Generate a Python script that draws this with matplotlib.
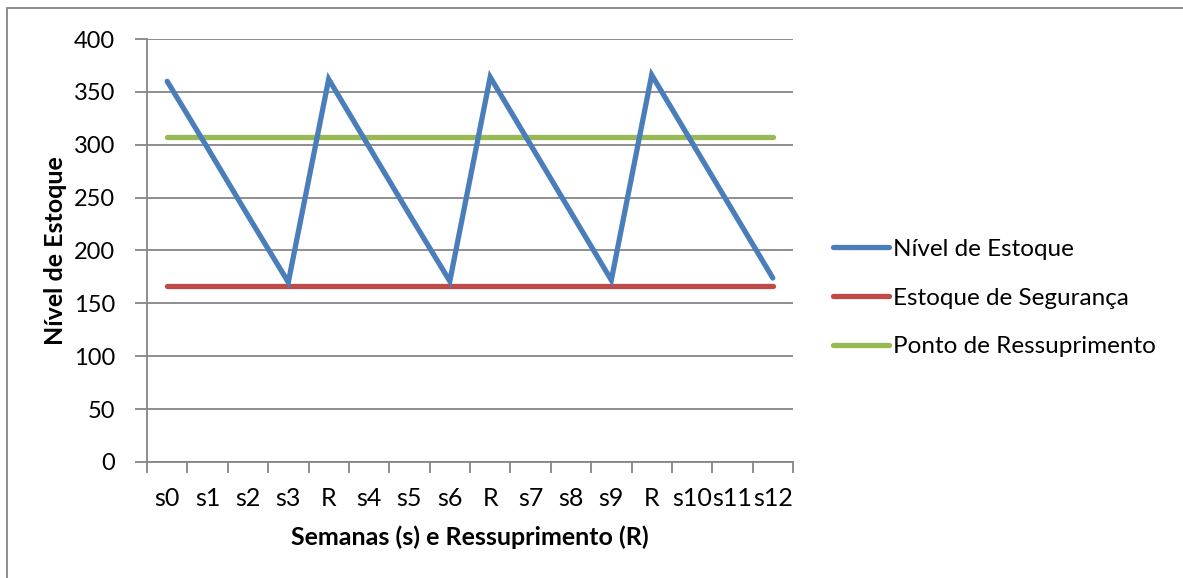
import matplotlib.pyplot as plt
import numpy as np
from matplotlib.patches import Rectangle

# categorias do eixo x (semanas e ressuprimentos)
categorias = ["s0", "s1", "s2", "s3", "R", "s4", "s5", "s6",
              "R", "s7", "s8", "s9", "R", "s10", "s11", "s12"]

nivel_estoque = [360, 297, 233, 170, 362, 298, 234, 171,
                 364, 300, 236, 172, 366, 302, 238, 174]
estoque_seguranca = [166] * len(categorias)
ponto_ressuprimento = [307] * len(categorias)

AZUL = "#4a7ebb"
VERMELHO = "#be4b48"
VERDE = "#98b954"
GRADE = "#868686"

plt.rcParams["font.family"] = ["Lato", "DejaVu Sans"]

fig = plt.figure(figsize=(11.83, 5.78), dpi=100)
ax = fig.add_axes([147 / 1183, 1 - 462 / 578, (793 - 147) / 1183, (462 - 39) / 578])

x = np.arange(len(categorias))
ax.plot(x, nivel_estoque, color=AZUL, lw=3.8, solid_capstyle="round",
        solid_joinstyle="miter", label="Nível de Estoque", zorder=3)
ax.plot(x, estoque_seguranca, color=VERMELHO, lw=3.8, solid_capstyle="round",
        label="Estoque de Segurança", zorder=2)
ax.plot(x, ponto_ressuprimento, color=VERDE, lw=3.8, solid_capstyle="round",
        label="Ponto de Ressuprimento", zorder=2)

ax.set_xlim(-0.5, len(categorias) - 0.5)
ax.set_ylim(0, 400)
ax.set_yticks(range(0, 401, 50))
ax.yaxis.grid(True, color=GRADE, lw=1.3)
ax.set_axisbelow(True)

# ticks nos limites das categorias, rótulos no centro
ax.set_xticks(np.arange(-0.5, len(categorias), 1))
ax.set_xticklabels([])
ax.set_xticks(x, minor=True)
ax.set_xticklabels(categorias, minor=True)
ax.tick_params(axis="x", which="major", length=8, width=1.3, color=GRADE)
ax.tick_params(axis="x", which="minor", length=0, pad=18, labelsize=18)
ax.tick_params(axis="y", length=9, width=1.3, color=GRADE, pad=14, labelsize=17)

for s in ["top", "right"]:
    ax.spines[s].set_visible(False)
for s in ["left", "bottom"]:
    ax.spines[s].set_color(GRADE)
    ax.spines[s].set_linewidth(1.3)

ax.set_ylabel("Nível de Estoque", fontsize=18, fontweight="bold", labelpad=5)
ax.set_xlabel("Semanas (s) e Ressuprimento (R)", fontsize=18, fontweight="bold", labelpad=11)

leg = ax.legend(loc="center left", bbox_to_anchor=(1.028, (462 - 298) / 423), frameon=False,
                fontsize=17.5, handlelength=2.3, handletextpad=0.15, labelspacing=1.15)

# moldura do gráfico
fig.patches.append(Rectangle((7 / 1183, -0.1), 1.2, 1 - 8 / 578 + 0.1,
                             transform=fig.transFigure, fill=False,
                             edgecolor=GRADE, lw=1.3))

fig.savefig("out.png", dpi=100)
